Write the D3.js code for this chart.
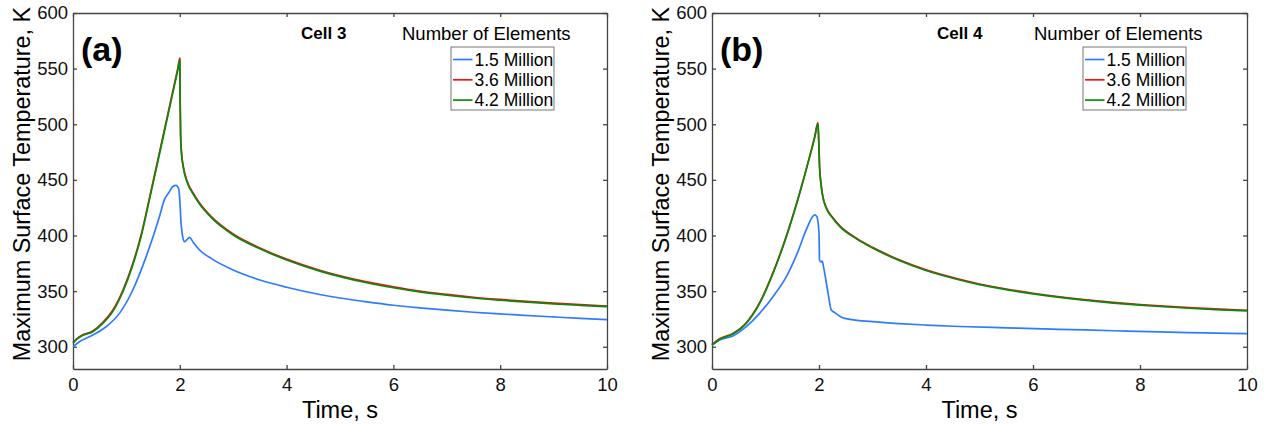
<!DOCTYPE html>
<html>
<head>
<meta charset="utf-8">
<script src="https://cdn.jsdelivr.net/npm/d3@7"></script>
<style>
body { margin: 0; background: #fff; }
text { font-family: "Liberation Sans", Arial, sans-serif; }
</style>
</head>
<body>
<script>
// axis ticks
const xTicks = [0, 2, 4, 6, 8, 10];
const yTicks = [300, 350, 400, 450, 500, 550, 600];
const legendNames = ["1.5 Million", "3.6 Million", "4.2 Million"];

// Cell 3 (panel a)
const cell3FineTime = [0, 0.09, 0.16, 0.37, 0.56, 0.75, 0.93, 1.12, 1.28, 1.43, 1.6, 1.75, 1.9, 1.97, 2.0, 2.005, 2.015, 2.03, 2.07, 2.14, 2.25, 2.37, 2.6, 3.0, 3.5, 4.0, 4.62, 5.0, 5.5, 6.0, 6.49, 7.0, 7.5, 8.0, 8.36, 9.0, 9.5, 10];
const cell3Mid = [304, 308, 310.2, 314.2, 322, 333.2, 350.3, 374.8, 401.3, 433.3, 470.5, 503.5, 536.5, 552, 559.5, 527, 491, 476, 461, 448.5, 438.2, 429.2, 416.5, 401.3, 388.8, 378.8, 368.8, 363.8, 358.3, 353.8, 350, 347, 344.5, 342.5, 341.2, 339.2, 337.8, 336.6];
const cell3Fine = [303, 307.5, 309.6, 313.5, 321, 332, 349, 373.5, 400, 432, 469, 502, 535, 550.5, 558, 525, 490, 475, 460, 447.5, 437.2, 428.3, 415.6, 400.5, 388, 378, 368, 363, 357.5, 353, 349.3, 346.3, 343.8, 341.8, 340.5, 338.5, 337.2, 336];
const cell3CoarseTime = [0, 0.12, 0.37, 0.62, 0.87, 1.12, 1.37, 1.62, 1.71, 1.8, 1.87, 1.93, 1.98, 2.0, 2.02, 2.05, 2.09, 2.14, 2.18, 2.25, 2.37, 2.6, 3.0, 3.5, 4.0, 4.62, 5.0, 5.5, 6.0, 6.49, 7.0, 7.5, 8.0, 8.36, 9.0, 9.5, 10];
const cell3Coarse = [300, 304.5, 310.5, 318, 330, 351, 381, 417, 432, 439, 444, 445, 442, 432, 414, 400, 394.5, 396.5, 398.4, 394, 387, 379, 369, 360, 353.5, 347, 343.8, 340.3, 337.3, 335, 332.9, 331, 329.5, 328.5, 326.8, 325.5, 324.3];

// Cell 4 (panel b)
const cell4FineTime = [0, 0.14, 0.39, 0.64, 0.89, 1.14, 1.39, 1.64, 1.8, 1.92, 1.98, 1.995, 2.01, 2.04, 2.07, 2.14, 2.25, 2.39, 2.7, 3.01, 3.5, 4.0, 4.63, 5.0, 5.5, 6.0, 6.5, 7.0, 7.5, 8.0, 8.37, 9.0, 9.5, 10];
const cell4Mid = [302, 307.2, 312, 321.6, 339.6, 366.6, 399.6, 438.6, 466.6, 489, 501.5, 486, 462.6, 445.6, 435.6, 424.6, 416.6, 408.6, 397.6, 389.1, 378.1, 369.1, 360.6, 356.4, 351.9, 348.1, 344.9, 342.2, 339.9, 338, 336.8, 335, 333.8, 332.8];
const cell4Fine = [301.5, 306.6, 311.4, 321, 339, 366, 399, 438, 466, 488, 500.5, 485, 462, 445, 435, 424, 416, 408, 397, 388.5, 377.5, 368.5, 360, 355.8, 351.3, 347.5, 344.3, 341.6, 339.3, 337.4, 336.2, 334.4, 333.2, 332.2];
const cell4CoarseTime = [0, 0.14, 0.39, 0.64, 0.89, 1.14, 1.39, 1.61, 1.76, 1.92, 1.96, 2.0, 2.01, 2.04, 2.06, 2.09, 2.17, 2.23, 2.3, 2.39, 2.48, 3.0, 3.5, 4.0, 4.63, 5.5, 6.5, 7.5, 8.37, 9.2, 10];
const cell4Coarse = [301.5, 306, 309.6, 318, 330, 345, 363, 386, 405, 418.5, 417, 402, 378, 376, 377, 370.5, 348, 333, 330.5, 327.5, 325.5, 322.5, 320.8, 319.5, 318.2, 317, 315.7, 314.4, 313.3, 312.5, 311.8];

const colors = ["#2f7bff", "#e81515", "#0a8a0a"];

window.onload = function () {
    const svg = d3.select("body").append("svg")
        .attr("width", 1267)
        .attr("height", 425);

    drawPanel(svg, {
        left: 73, right: 607, tag: "(a)", cell: "Cell 3",
        cellX: 301, titleX: 402, legendX: 451,
        series: [[cell3CoarseTime, cell3Coarse], [cell3FineTime, cell3Mid], [cell3FineTime, cell3Fine]]
    });

    drawPanel(svg, {
        left: 712, right: 1247, tag: "(b)", cell: "Cell 4",
        cellX: 937, titleX: 1034, legendX: 1083,
        series: [[cell4CoarseTime, cell4Coarse], [cell4FineTime, cell4Mid], [cell4FineTime, cell4Fine]]
    });
}

function drawPanel(svg, p) {
    const top = 13, bottom = 369;

    const x = d3.scaleLinear().domain([0, 10]).range([p.left, p.right]);
    const y = d3.scaleLinear().domain([280, 600]).range([bottom, top]);

    const g = svg.append("g");

    //Axes, ticks pointing inward
    const axes = [
        g.append("g").attr("transform", `translate(0,${bottom})`)
            .call(d3.axisBottom(x).tickValues(xTicks).tickSize(-4).tickSizeOuter(0).tickPadding(9)),
        g.append("g").attr("transform", `translate(0,${top})`)
            .call(d3.axisTop(x).tickValues(xTicks).tickSize(-4).tickSizeOuter(0).tickFormat("")),
        g.append("g").attr("transform", `translate(${p.left},0)`)
            .call(d3.axisLeft(y).tickValues(yTicks).tickSize(-4).tickSizeOuter(0).tickPadding(5)),
        g.append("g").attr("transform", `translate(${p.right},0)`)
            .call(d3.axisRight(y).tickValues(yTicks).tickSize(-4).tickSizeOuter(0).tickFormat(""))
    ];
    axes.forEach(a => {
        a.attr("font-size", 18.5).attr("font-family", "Liberation Sans, Arial, sans-serif");
        a.selectAll("path, line").attr("stroke", "#444").attr("stroke-width", 1.3);
        a.selectAll("text").attr("fill", "#111");
    });

    //Curves
    const line = d3.line()
        .x(d => x(d[0]))
        .y(d => y(d[1]))
        .curve(d3.curveMonotoneX);

    p.series.forEach((s, i) => {
        g.append("path")
            .datum(d3.zip(s[0], s[1]))
            .attr("fill", "none")
            .attr("stroke", colors[i])
            .attr("stroke-width", 1.7)
            .attr("stroke-linejoin", "round")
            .attr("d", line);
    });

    //Labels
    g.append("text")
        .attr("x", (p.left + p.right) / 2)
        .attr("y", 418)
        .attr("text-anchor", "middle")
        .attr("font-size", 23.5)
        .text("Time, s");

    g.append("text")
        .attr("transform", `translate(${p.left - 43.5},${(top + bottom) / 2 - 7}) rotate(-90)`)
        .attr("text-anchor", "middle")
        .attr("font-size", 23.4)
        .text("Maximum Surface Temperature, K");

    g.append("text")
        .attr("x", p.left + 8)
        .attr("y", 61)
        .attr("font-size", 34)
        .attr("font-weight", "bold")
        .text(p.tag);

    g.append("text")
        .attr("x", p.cellX)
        .attr("y", 38.5)
        .attr("font-size", 17)
        .attr("font-weight", "bold")
        .text(p.cell);

    g.append("text")
        .attr("x", p.titleX)
        .attr("y", 40)
        .attr("font-size", 18.5)
        .text("Number of Elements");

    //Legend
    const lg = g.append("g").attr("transform", `translate(${p.legendX},47)`);
    lg.append("rect")
        .attr("width", 103).attr("height", 63)
        .attr("fill", "#fff").attr("stroke", "#777").attr("stroke-width", 1);

    legendNames.forEach((name, i) => {
        const cy = 12.5 + i * 20.3;
        lg.append("line")
            .attr("x1", 2).attr("x2", 21.5)
            .attr("y1", cy).attr("y2", cy)
            .attr("stroke", colors[i]).attr("stroke-width", 1.7);
        lg.append("text")
            .attr("x", 23.5).attr("y", cy)
            .attr("dy", "0.35em")
            .attr("font-size", 17.5)
            .text(name);
    });
}
</script>
</body>
</html>
